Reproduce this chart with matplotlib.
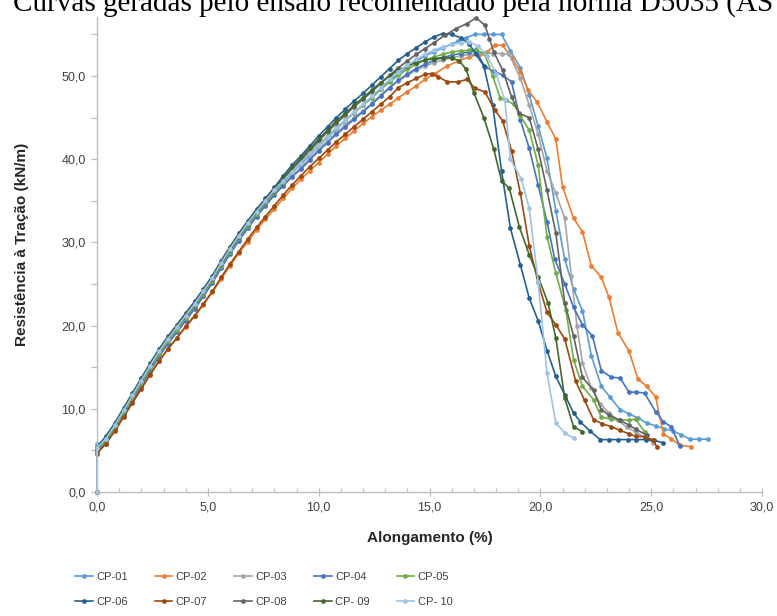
import matplotlib
matplotlib.use("Agg")
import matplotlib.pyplot as plt
from matplotlib.ticker import MultipleLocator, FuncFormatter

plt.rcParams['font.family'] = ['Liberation Sans', 'DejaVu Sans']

# ---------------- data ----------------
labels = ["CP-01", "CP-02", "CP-03", "CP-04", "CP-05",
          "CP-06", "CP-07", "CP-08", "CP- 09", "CP- 10"]
colors = ["#5B9BD5", "#ED7D31", "#A5A5A5", "#4472C4", "#70AD47",
          "#255E91", "#9E480E", "#636363", "#43682B", "#9DC3E6"]

rise_x = [0, 0, 0.4, 0.8, 1.2, 1.6, 2.0, 2.4, 2.8, 3.2, 3.6, 4.0, 4.4, 4.8, 5.2, 5.6,
          6.0, 6.4, 6.8, 7.2, 7.6, 8.0, 8.4, 8.8, 9.2, 9.6, 10.0, 10.4, 10.8, 11.2,
          11.6, 12.0, 12.4, 12.8, 13.2, 13.6, 14.0, 14.4]

cp01_rise = [0, 5.8, 6.2, 7.8, 9.6, 11.4, 13.2, 15.0, 16.7, 18.2, 19.6, 21.0, 22.4, 23.9, 25.5, 27.3,
             29.0, 30.6, 32.1, 33.5, 34.8, 36.1, 37.2, 38.4, 39.4, 40.5, 41.6, 42.6, 43.6, 44.6,
             45.6, 46.5, 47.4, 48.4, 49.4, 50.3, 51.1, 51.8]
cp01_tx = [14.8, 15.2, 15.6, 16.0, 16.3, 16.65, 17.05, 17.45, 17.85, 18.25, 18.65, 19.1, 19.5, 19.9,
           20.3, 20.7, 21.1, 21.5, 21.9, 22.3, 22.75, 23.15, 23.6, 24.0, 24.4, 24.8, 25.2, 25.6,
           26.0, 26.35, 26.75, 27.15, 27.55]
cp01_ty = [52.4, 52.9, 53.4, 53.8, 54.2, 54.6, 55.0, 55.0, 55.0, 55.0, 53.0, 51.0, 47.7, 44.0,
           40.1, 33.8, 28.0, 24.4, 21.8, 16.4, 12.7, 11.4, 9.9, 9.4, 8.9, 8.3, 7.95, 7.6,
           7.3, 6.9, 6.35, 6.35, 6.35]

cp02_rise = [0, 4.8, 5.9, 7.4, 9.1, 10.8, 12.5, 14.2, 15.8, 17.2, 18.5, 19.8, 21.1, 22.5, 24.0, 25.6,
             27.2, 28.7, 30.1, 31.5, 32.8, 34.0, 35.3, 36.5, 37.6, 38.6, 39.6, 40.6, 41.6, 42.5,
             43.4, 44.3, 45.1, 45.9, 46.6, 47.4, 48.1, 48.8]
cp02_tx = [14.8, 15.25, 15.8, 16.3, 16.8, 17.3, 17.6, 17.95, 18.3, 18.7, 19.1, 19.45, 19.85, 20.3,
           20.7, 21.0, 21.5, 21.9, 22.3, 22.75, 23.1, 23.5, 24.0, 24.4, 24.8, 25.2, 25.55, 25.9,
           26.3, 26.8]
cp02_ty = [49.6, 50.3, 51.2, 51.8, 52.3, 52.7, 52.9, 53.7, 53.7, 52.2, 50.5, 48.3, 46.9, 44.5,
           42.4, 36.7, 32.9, 31.3, 27.2, 25.8, 23.4, 19.15, 16.95, 13.6, 12.7, 11.45, 7.0, 6.4,
           5.6, 5.45]

cp03_rise = [0, 5.0, 5.9, 7.5, 9.3, 11.1, 12.9, 14.7, 16.4, 17.9, 19.3, 20.7, 22.1, 23.6, 25.2, 27.0,
             28.7, 30.3, 31.8, 33.2, 34.5, 35.8, 36.9, 38.0, 39.0, 40.1, 41.2, 42.2, 43.2, 44.1,
             45.0, 45.8, 46.7, 47.7, 48.6, 49.4, 50.1, 50.7]
cp03_tx = [14.8, 15.2, 15.6, 16.0, 16.4, 16.8, 17.2, 17.5, 17.85, 18.25, 18.6, 19.1, 19.5, 19.9,
           20.3, 20.7, 21.1, 21.4, 21.65, 21.9, 22.3, 22.7, 23.1, 23.5, 23.9, 24.3, 24.7, 25.1]
cp03_ty = [51.2, 51.6, 51.9, 52.2, 52.4, 52.6, 52.7, 52.8, 52.7, 52.7, 52.6, 49.7, 46.5, 43.0,
           38.6, 35.9, 32.9, 26.0, 20.0, 15.5, 12.5, 10.6, 9.5, 8.6, 7.8, 7.2, 6.6, 5.9]

cp04_rise = [0, 5.0, 5.8, 7.4, 9.2, 11.0, 12.8, 14.6, 16.3, 17.8, 19.2, 20.6, 22.0, 23.5, 25.1, 26.9,
             28.6, 30.2, 31.7, 33.1, 34.4, 35.7, 36.8, 37.9, 38.8, 39.9, 41.0, 42.0, 43.0, 43.9,
             44.8, 45.7, 46.6, 47.6, 48.6, 49.5, 50.2, 50.9]
cp04_tx = [14.8, 15.2, 15.6, 16.0, 16.4, 16.8, 17.1, 17.5, 17.9, 18.3, 18.7, 19.1, 19.5, 19.9,
           20.3, 20.65, 21.1, 21.5, 21.9, 22.35, 22.75, 23.2, 23.6, 24.0, 24.3, 24.7, 25.2, 25.55,
           25.9, 26.3]
cp04_ty = [51.4, 51.9, 52.2, 52.5, 52.7, 52.9, 53.0, 51.1, 50.6, 50.1, 49.3, 44.7, 41.3, 36.9,
           32.5, 28.0, 25.0, 22.2, 20.1, 18.75, 14.6, 13.8, 13.7, 12.0, 12.0, 11.9, 9.65, 8.45,
           7.85, 5.5]

cp05_rise = [0, 5.1, 6.1, 7.7, 9.5, 11.3, 13.1, 14.9, 16.6, 18.1, 19.5, 20.9, 22.3, 23.8, 25.4, 27.2,
             28.9, 30.5, 32.0, 33.4, 34.7, 36.0, 37.3, 38.5, 39.6, 40.7, 41.8, 42.8, 43.8, 44.7,
             45.6, 46.5, 47.4, 48.4, 49.3, 50.1, 50.8, 51.4]
cp05_tx = [14.8, 15.2, 15.6, 16.0, 16.4, 16.8, 17.1, 17.5, 17.85, 18.2, 18.45, 18.8, 19.1, 19.5,
           19.9, 20.3, 20.7, 21.15, 21.5, 21.9, 22.4, 22.75, 23.2, 23.6, 24.0, 24.3, 24.7]
cp05_ty = [51.9, 52.3, 52.6, 52.9, 53.0, 53.1, 53.2, 52.6, 50.0, 47.3, 47.1, 46.6, 45.2, 43.5,
           39.3, 30.7, 26.3, 21.9, 15.9, 12.7, 11.1, 9.0, 8.75, 8.65, 8.65, 8.75, 7.25]

cp06_rise = [0, 5.4, 6.7, 8.3, 10.1, 11.9, 13.7, 15.5, 17.2, 18.7, 20.1, 21.5, 22.9, 24.4, 26.0, 27.8,
             29.5, 31.1, 32.6, 34.0, 35.3, 36.6, 38.0, 39.3, 40.4, 41.6, 42.8, 43.9, 45.0, 46.0,
             47.0, 47.9, 48.9, 49.9, 50.9, 51.9, 52.7, 53.4]
cp06_tx = [14.8, 15.2, 15.6, 16.0, 16.4, 16.8, 17.1, 17.45, 17.85, 18.25, 18.65, 19.1, 19.5, 19.9,
           20.3, 20.7, 21.1, 21.5, 21.8, 22.25, 22.7, 23.1, 23.5, 23.95, 24.3, 24.75, 25.15, 25.55]
cp06_ty = [54.1, 54.7, 55.1, 55.0, 54.6, 53.8, 52.6, 51.2, 46.5, 38.6, 31.7, 27.3, 23.3, 20.6,
           17.0, 13.9, 11.7, 9.5, 8.45, 7.3, 6.3, 6.3, 6.3, 6.3, 6.3, 6.3, 6.2, 5.9]

cp07_rise = [0, 4.6, 5.8, 7.3, 9.0, 10.7, 12.4, 14.1, 15.7, 17.2, 18.5, 19.9, 21.2, 22.6, 24.1, 25.8,
             27.4, 28.9, 30.4, 31.8, 33.1, 34.4, 35.7, 36.9, 38.0, 39.1, 40.1, 41.1, 42.1, 43.0,
             43.9, 44.8, 45.7, 46.6, 47.5, 48.6, 49.2, 49.7]
cp07_tx = [14.8, 15.1, 15.4, 15.8, 16.3, 16.7, 17.05, 17.5, 17.95, 18.3, 18.7, 19.1, 19.5, 19.9,
           20.3, 20.7, 21.1, 21.6, 22.0, 22.4, 22.8, 23.2, 23.6, 24.0, 24.3, 24.7, 25.1, 25.25]
cp07_ty = [50.2, 50.3, 49.9, 49.3, 49.3, 49.6, 48.5, 48.1, 45.9, 44.6, 41.0, 35.9, 29.6, 25.2,
           21.6, 20.1, 18.4, 13.3, 11.0, 8.7, 8.2, 7.85, 7.4, 7.0, 6.7, 6.65, 6.25, 5.45]

cp08_rise = [0, 5.2, 6.4, 8.0, 9.8, 11.6, 13.4, 15.2, 16.9, 18.4, 19.8, 21.1, 22.5, 24.0, 25.6, 27.4,
             29.1, 30.7, 32.2, 33.6, 34.9, 36.2, 37.5, 38.8, 39.9, 41.0, 42.2, 43.3, 44.3, 45.3,
             46.3, 47.2, 48.1, 49.1, 50.1, 51.0, 51.8, 52.6]
cp08_tx = [14.8, 15.2, 15.7, 16.2, 16.7, 17.1, 17.5, 17.7, 17.9, 18.3, 18.7, 19.05, 19.5, 19.9,
           20.3, 20.7, 21.1, 21.5, 21.9, 22.4, 22.75, 23.1, 23.6, 24.0, 24.3, 24.8]
cp08_ty = [53.3, 54.0, 54.9, 55.7, 56.3, 57.0, 56.1, 54.5, 52.9, 50.7, 47.5, 45.5, 45.0, 41.2,
           36.3, 31.1, 22.75, 18.75, 13.8, 12.2, 9.9, 9.25, 8.6, 8.05, 7.55, 6.85]

cp09_rise = [0, 5.3, 6.5, 8.1, 9.9, 11.7, 13.5, 15.3, 17.0, 18.5, 19.9, 21.3, 22.7, 24.2, 25.8, 27.6,
             29.3, 30.9, 32.4, 33.8, 35.1, 36.4, 37.7, 39.0, 40.1, 41.3, 42.4, 43.5, 44.6, 45.5,
             46.5, 47.4, 48.3, 49.2, 50.0, 50.7, 51.2, 51.6]
cp09_tx = [14.8, 15.2, 15.6, 16.0, 16.35, 16.65, 17.0, 17.45, 17.9, 18.25, 18.6, 19.05, 19.5, 19.9,
           20.35, 20.7, 21.1, 21.5, 21.9]
cp09_ty = [51.9, 52.1, 52.2, 52.2, 51.8, 50.8, 48.0, 45.0, 41.2, 37.4, 36.5, 31.9, 28.5, 25.9,
           22.7, 18.5, 11.3, 7.85, 7.25]

cp10_rise = [0, 5.3, 6.4, 8.0, 9.8, 11.6, 13.4, 15.2, 16.9, 18.4, 19.8, 21.2, 22.6, 24.1, 25.7, 27.5,
             29.2, 30.8, 32.3, 33.7, 35.0, 36.3, 37.4, 38.5, 39.6, 40.7, 41.7, 42.7, 43.7, 44.7,
             45.7, 46.6, 47.6, 48.6, 49.6, 50.5, 51.3, 52.0]
cp10_tx = [14.8, 15.2, 15.6, 16.0, 16.4, 16.8, 17.2, 17.6, 18.0, 18.4, 18.65, 19.15, 19.5, 19.9,
           20.3, 20.7, 21.1, 21.5]
cp10_ty = [52.6, 53.1, 53.5, 53.8, 54.0, 54.1, 53.6, 52.4, 50.3, 47.1, 40.0, 37.6, 34.1, 25.3,
           14.3, 8.3, 7.1, 6.45]

series = [
    (cp01_rise, cp01_tx, cp01_ty), (cp02_rise, cp02_tx, cp02_ty),
    (cp03_rise, cp03_tx, cp03_ty), (cp04_rise, cp04_tx, cp04_ty),
    (cp05_rise, cp05_tx, cp05_ty), (cp06_rise, cp06_tx, cp06_ty),
    (cp07_rise, cp07_tx, cp07_ty), (cp08_rise, cp08_tx, cp08_ty),
    (cp09_rise, cp09_tx, cp09_ty), (cp10_rise, cp10_tx, cp10_ty),
]

# ---------------- figure ----------------
W, H = 777, 616
fig = plt.figure(figsize=(W / 100, H / 100), dpi=100)
ax_left, ax_right, ax_bottom, ax_top = 97, 762, 492, 17
ax = fig.add_axes([ax_left / W, (H - ax_bottom) / H,
                   (ax_right - ax_left) / W, (ax_bottom - ax_top) / H])

handles = []
for (rise, tx, ty), lab, col in zip(series, labels, colors):
    xs = rise_x + tx
    ys = rise + ty
    h, = ax.plot(xs, ys, color=col, lw=1.2, marker='o', ms=3.4,
                 markeredgewidth=0, label=lab, clip_on=False)
    handles.append(h)

ax.set_xlim(0, 30)
ax.set_ylim(0, (ax_bottom - ax_top) / 8.32)

axis_col = "#BFBFBF"
for s in ['top', 'right']:
    ax.spines[s].set_visible(False)
for s in ['left', 'bottom']:
    ax.spines[s].set_color(axis_col)
    ax.spines[s].set_linewidth(1.0)

ax.xaxis.set_major_locator(MultipleLocator(5))
ax.xaxis.set_minor_locator(MultipleLocator(1))
ax.yaxis.set_major_locator(MultipleLocator(10))
ax.yaxis.set_minor_locator(MultipleLocator(5))
fmt = FuncFormatter(lambda v, p: f"{v:.1f}".replace('.', ','))
ax.xaxis.set_major_formatter(fmt)
ax.yaxis.set_major_formatter(fmt)
ax.tick_params(axis='x', which='major', direction='inout', length=6, width=0.9,
               color=axis_col, labelsize=9, labelcolor='#404040', pad=4)
ax.tick_params(axis='x', which='minor', direction='in', length=3, width=0.9, color=axis_col)
ax.tick_params(axis='y', which='both', direction='out', length=4, width=0.9,
               color=axis_col, labelsize=9, labelcolor='#404040', pad=4)

fig.text(430 / W, 1 - 538 / H, "Alongamento (%)", ha='center', va='center',
         fontsize=11, fontweight='bold', color='#262626')
fig.text(22 / W, 1 - 244 / H, "Resistência à Tração (kN/m)", ha='center', va='center',
         rotation=90, fontsize=11, fontweight='bold', color='#262626')

# caption text of the source document, cut at the top edge as in the reference
fig.text(13 / W, 1 - 11 / H,
         "Curvas geradas pelo ensaio recomendado pela norma D5035 (ASTM, 2015)",
         ha='left', va='baseline', fontsize=21, family=['Liberation Serif', 'DejaVu Serif'],
         color='black')

order = [0, 5, 1, 6, 2, 7, 3, 8, 4, 9]
leg = fig.legend([handles[i] for i in order], [labels[i] for i in order],
                 ncol=5, loc='upper left', bbox_to_anchor=(75 / W, 1 - 572 / H),
                 frameon=False, fontsize=8, handlelength=1.6, handletextpad=0.3,
                 columnspacing=2.42, labelspacing=1.35, borderaxespad=0, borderpad=0)
for t in leg.get_texts():
    t.set_color('#404040')

fig.savefig("out.png", dpi=100)
